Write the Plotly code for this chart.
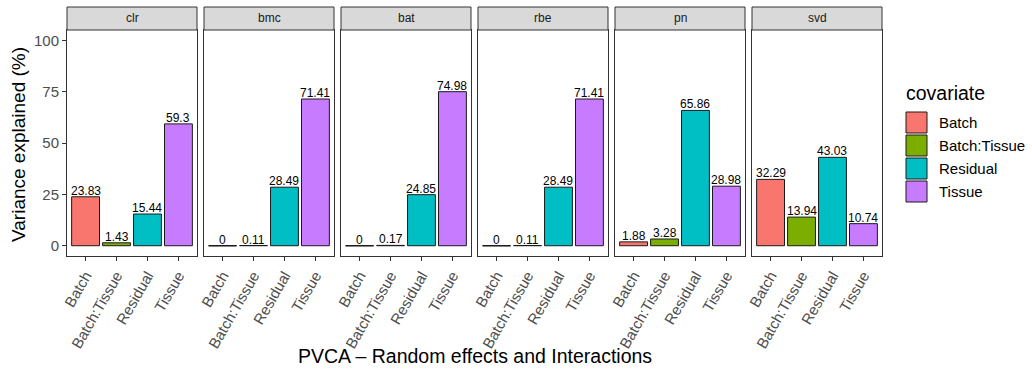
import plotly.graph_objects as go

methods = ["clr", "bmc", "bat", "rbe", "pn", "svd"]
covariates = ["Batch", "Batch:Tissue", "Residual", "Tissue"]
colors = ["#F8766D", "#7CAE00", "#00BFC4", "#C77CFF"]

values = {
    "clr": [23.83, 1.43, 15.44, 59.3],
    "bmc": [0, 0.11, 28.49, 71.41],
    "bat": [0, 0.17, 24.85, 74.98],
    "rbe": [0, 0.11, 28.49, 71.41],
    "pn": [1.88, 3.28, 65.86, 28.98],
    "svd": [32.29, 13.94, 43.03, 10.74],
}

y_ticks = [0, 25, 50, 75, 100]

FONT = "Liberation Sans, Arial, sans-serif"
W, H = 1032, 374
L, R, T, B = 67, 150, 30, 118
PW = W - L - R
PH = H - T - B
panel_w = 130
gap = 7
bar_w = 0.9

fig = go.Figure()
layout = {}
shapes = []
annotations = []

xs = list(range(len(covariates)))
for i, m in enumerate(methods):
    k = "" if i == 0 else str(i + 1)
    xa, ya = "x" + k, "y" + k
    vals = values[m]
    fig.add_trace(go.Bar(
        x=xs, y=vals, width=bar_w,
        marker=dict(color=colors, line=dict(color="#1a1a1a", width=1)),
        xaxis=xa, yaxis=ya, showlegend=False, hoverinfo="skip",
    ))
    # outline for zero-height bars
    for j, v in enumerate(vals):
        if v == 0:
            fig.add_trace(go.Scatter(
                x=[xs[j] - bar_w / 2, xs[j] + bar_w / 2], y=[v, v],
                mode="lines", line=dict(color="#1a1a1a", width=1),
                xaxis=xa, yaxis=ya, showlegend=False, hoverinfo="skip",
                cliponaxis=False,
            ))
    for j, v in enumerate(vals):
        annotations.append(dict(
            xref=xa, yref=ya, x=xs[j], y=v, text=f"{v:g}",
            showarrow=False, xanchor="center", yanchor="bottom", yshift=-3,
            font=dict(family=FONT, size=12, color="black"),
        ))
    x0 = i * (panel_w + gap) / PW
    x1 = (i * (panel_w + gap) + panel_w) / PW
    layout["xaxis" + k] = dict(
        domain=[x0, x1], anchor=ya, range=[-0.6, len(covariates) - 0.4],
        tickmode="array", tickvals=xs, ticktext=covariates, tickangle=-60,
        ticks="outside", ticklen=4, tickcolor="#333333", tickwidth=1,
        tickfont=dict(family=FONT, size=15, color="#4D4D4D"),
        showline=True, mirror=True, linecolor="#333333", linewidth=1,
        showgrid=False, zeroline=False, fixedrange=True,
    )
    layout["yaxis" + k] = dict(
        domain=[0, 1], anchor=xa, range=[-5, 105],
        tickmode="array", tickvals=y_ticks,
        ticks="outside" if i == 0 else "", ticklen=4, tickcolor="#333333",
        showticklabels=(i == 0),
        tickfont=dict(family=FONT, size=15, color="#4D4D4D"),
        showline=True, mirror=True, linecolor="#333333", linewidth=1,
        showgrid=False, zeroline=False, fixedrange=True,
    )
    # strip
    shapes.append(dict(
        type="rect", xref=xa + " domain", yref="paper",
        x0=0, x1=1, y0=1, y1=1 + 23 / PH,
        fillcolor="#D9D9D9", line=dict(color="#333333", width=1), layer="above",
    ))
    annotations.append(dict(
        xref=xa + " domain", yref="paper", x=0.5, y=1 + 11.5 / PH,
        text=m, showarrow=False, xanchor="center", yanchor="middle",
        font=dict(family=FONT, size=12, color="#1A1A1A"),
    ))

def px_x(px):
    return (px - L) / PW

def px_y(py):
    return (T + PH - py) / PH

# axis titles
annotations.append(dict(
    xref="paper", yref="paper", x=px_x(18), y=px_y(145),
    text="Variance explained (%)", textangle=-90, showarrow=False,
    xanchor="center", yanchor="middle",
    font=dict(family=FONT, size=19, color="black"),
))
annotations.append(dict(
    xref="paper", yref="paper", x=0.5, y=px_y(356),
    text="PVCA \u2013 Random effects and Interactions", showarrow=False,
    xanchor="center", yanchor="middle",
    font=dict(family=FONT, size=19.5, color="black"),
))

# legend
annotations.append(dict(
    xref="paper", yref="paper", x=px_x(904), y=px_y(93),
    text="covariate", showarrow=False, xanchor="left", yanchor="middle",
    font=dict(family=FONT, size=19.5, color="black"),
))
key = 21
pitch = 23
for j, (c, col) in enumerate(zip(covariates, colors)):
    top = 112 + j * pitch
    shapes.append(dict(
        type="rect", xref="paper", yref="paper",
        x0=px_x(906), x1=px_x(906 + key), y0=px_y(top + key), y1=px_y(top),
        fillcolor=col, line=dict(color="#1a1a1a", width=1),
    ))
    annotations.append(dict(
        xref="paper", yref="paper", x=px_x(937), y=px_y(top + key / 2),
        text=c, showarrow=False, xanchor="left", yanchor="middle",
        font=dict(family=FONT, size=15, color="black"),
    ))

fig.update_layout(
    width=W, height=H, autosize=False,
    margin=dict(l=L, r=R, t=T, b=B, pad=0),
    paper_bgcolor="white", plot_bgcolor="white",
    shapes=shapes, annotations=annotations, showlegend=False,
    barmode="overlay",
    **layout,
)

fig.write_html("out.html", config={"displayModeBar": False})
